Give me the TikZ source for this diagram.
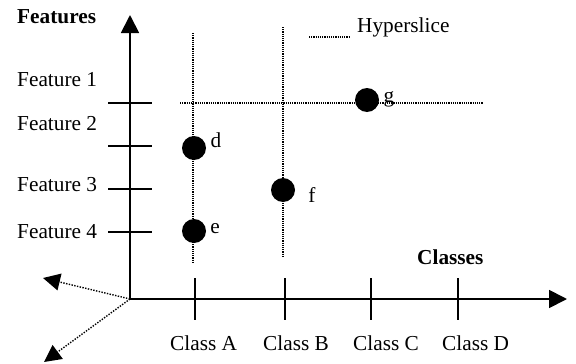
\documentclass[tikz,border=0pt]{standalone}
\usepackage{fontspec}
\setmainfont{Liberation Serif}
\usetikzlibrary{arrows.meta}
\tikzset{
  lbl/.style={inner sep=0pt, anchor=west, font=\fontsize{21.3}{24}\selectfont},
  blbl/.style={lbl, font=\fontsize{21.3}{24}\selectfont\bfseries},
  axis/.style={line width=1.8pt, -{Triangle[length=18pt,width=18pt]}},
  tick/.style={line width=1.4pt},
  dots/.style={line width=1.1pt, dash pattern=on 1.1pt off 1.1pt},
  dotarrow/.style={line width=1.4pt, dash pattern=on 1.4pt off 1.4pt, -{Triangle[length=17pt,width=17pt]}},
  pt/.style={circle, fill=black, minimum size=24pt, inner sep=0pt}
}
\begin{document}
\begin{tikzpicture}[x=1pt,y=-1pt]
\useasboundingbox (0,0) rectangle (576,364);
% axes
\coordinate (o) at (130,299);
\coordinate (ytop) at (130,15);
\coordinate (xend) at (567,299);
\draw[axis] (o) -- (ytop);
\draw[axis] (o) -- (xend);
% dotted axes
\coordinate (z1) at (43,278);
\coordinate (z2) at (44,362);
\draw[dotarrow] (o) -- (z1);
\draw[dotarrow] (o) -- (z2);
% y ticks
\foreach \n/\y in {1/103,2/146,3/189,4/232}{
  \draw[tick] (108,\y) -- (152,\y);
}
% x ticks
\foreach \n/\x in {A/195,B/285,C/371,D/458}{
  \draw[tick] (\x,278) -- (\x,320);
}
% labels
\node[blbl] (features) at (17,17) {Features};
\node[lbl] (f1) at (17,80) {Feature 1};
\node[lbl] (f2) at (17,124) {Feature 2};
\node[lbl] (f3) at (17,185) {Feature 3};
\node[lbl] (f4) at (17,232) {Feature 4};
\node[blbl] (classes) at (417,257) {Classes};
\node[lbl] (ca) at (170,343) {Class A};
\node[lbl] (cb) at (263,343) {Class B};
\node[lbl] (cc) at (353,343) {Class C};
\node[lbl] (cd) at (442,343) {Class D};
% hyperslices
\draw[dots] (193,33) -- (193,262);
\draw[dots] (283,27) -- (283,256);
\draw[dots] (180,103) -- (483,103);
% legend
\coordinate (lg1) at (309,37);
\coordinate (lg2) at (349,37);
\draw[dots] (lg1) -- (lg2);
\node[lbl] (hyp) at (357,27) {Hyperslice};
% points
\node[pt] (d) at (194,148) {};
\node[pt] (e) at (194,231) {};
\node[pt] (f) at (283,190) {};
\node[pt] (g) at (367,100) {};
\node[lbl, anchor=center] (dl) at (216,140) {d};
\node[lbl, anchor=center] (el) at (215,229) {e};
\node[lbl, anchor=center] (fl) at (312,195) {f};
\node[lbl, anchor=center] (gl) at (389,99) {g};
\end{tikzpicture}
\end{document}
